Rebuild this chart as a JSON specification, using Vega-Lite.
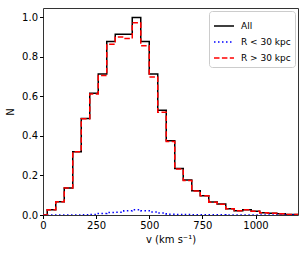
{
  "$schema": "https://vega.github.io/schema/vega-lite/v6.json",
  "width": 255,
  "height": 207,
  "autosize": {"type": "none"},
  "padding": {"left": 43, "top": 8, "right": 9, "bottom": 38},
  "background": "white",
  "config": {
    "view": {"stroke": "#333", "strokeWidth": 1},
    "font": "DejaVu Sans",
    "axis": {
      "grid": false,
      "domain": false,
      "labelFont": "DejaVu Sans",
      "labelFontSize": 10,
      "labelColor": "black",
      "tickColor": "black",
      "tickSize": 3.5,
      "labelPadding": 2,
      "titleFont": "DejaVu Sans",
      "titleFontSize": 10,
      "titleFontWeight": "normal",
      "titleColor": "black"
    },
    "legend": {
      "labelFont": "DejaVu Sans",
      "labelFontSize": 9,
      "labelColor": "black"
    }
  },
  "datasets": {
    "hist": [
      {"v": 0, "n": 0, "s": "All"},
      {"v": 20, "n": 0.027, "s": "All"},
      {"v": 60, "n": 0.067, "s": "All"},
      {"v": 100, "n": 0.137, "s": "All"},
      {"v": 140, "n": 0.32, "s": "All"},
      {"v": 180, "n": 0.488, "s": "All"},
      {"v": 220, "n": 0.616, "s": "All"},
      {"v": 260, "n": 0.714, "s": "All"},
      {"v": 300, "n": 0.878, "s": "All"},
      {"v": 340, "n": 0.915, "s": "All"},
      {"v": 380, "n": 0.915, "s": "All"},
      {"v": 420, "n": 1.0, "s": "All"},
      {"v": 460, "n": 0.878, "s": "All"},
      {"v": 500, "n": 0.714, "s": "All"},
      {"v": 540, "n": 0.53, "s": "All"},
      {"v": 580, "n": 0.376, "s": "All"},
      {"v": 620, "n": 0.236, "s": "All"},
      {"v": 660, "n": 0.177, "s": "All"},
      {"v": 700, "n": 0.123, "s": "All"},
      {"v": 740, "n": 0.098, "s": "All"},
      {"v": 780, "n": 0.066, "s": "All"},
      {"v": 820, "n": 0.056, "s": "All"},
      {"v": 860, "n": 0.032, "s": "All"},
      {"v": 900, "n": 0.022, "s": "All"},
      {"v": 940, "n": 0.027, "s": "All"},
      {"v": 980, "n": 0.019, "s": "All"},
      {"v": 1020, "n": 0.012, "s": "All"},
      {"v": 1060, "n": 0.009, "s": "All"},
      {"v": 1100, "n": 0.006, "s": "All"},
      {"v": 1140, "n": 0.003, "s": "All"},
      {"v": 1180, "n": 0.002, "s": "All"},
      {"v": 1200, "n": 0.002, "s": "All"},

      {"v": 0, "n": 0, "s": "R < 30 kpc"},
      {"v": 20, "n": 0, "s": "R < 30 kpc"},
      {"v": 60, "n": 0, "s": "R < 30 kpc"},
      {"v": 100, "n": 0, "s": "R < 30 kpc"},
      {"v": 140, "n": 0, "s": "R < 30 kpc"},
      {"v": 180, "n": 0.001, "s": "R < 30 kpc"},
      {"v": 220, "n": 0.003, "s": "R < 30 kpc"},
      {"v": 260, "n": 0.008, "s": "R < 30 kpc"},
      {"v": 300, "n": 0.013, "s": "R < 30 kpc"},
      {"v": 340, "n": 0.014, "s": "R < 30 kpc"},
      {"v": 380, "n": 0.021, "s": "R < 30 kpc"},
      {"v": 420, "n": 0.027, "s": "R < 30 kpc"},
      {"v": 460, "n": 0.021, "s": "R < 30 kpc"},
      {"v": 500, "n": 0.015, "s": "R < 30 kpc"},
      {"v": 540, "n": 0.01, "s": "R < 30 kpc"},
      {"v": 580, "n": 0.004, "s": "R < 30 kpc"},
      {"v": 620, "n": 0.003, "s": "R < 30 kpc"},
      {"v": 660, "n": 0.002, "s": "R < 30 kpc"},
      {"v": 700, "n": 0.001, "s": "R < 30 kpc"},
      {"v": 740, "n": 0.001, "s": "R < 30 kpc"},
      {"v": 780, "n": 0.001, "s": "R < 30 kpc"},
      {"v": 820, "n": 0.001, "s": "R < 30 kpc"},
      {"v": 860, "n": 0, "s": "R < 30 kpc"},
      {"v": 900, "n": 0, "s": "R < 30 kpc"},
      {"v": 940, "n": 0, "s": "R < 30 kpc"},
      {"v": 980, "n": 0, "s": "R < 30 kpc"},
      {"v": 1020, "n": 0, "s": "R < 30 kpc"},
      {"v": 1060, "n": 0, "s": "R < 30 kpc"},
      {"v": 1100, "n": 0, "s": "R < 30 kpc"},
      {"v": 1140, "n": 0, "s": "R < 30 kpc"},
      {"v": 1180, "n": 0, "s": "R < 30 kpc"},
      {"v": 1200, "n": 0, "s": "R < 30 kpc"},

      {"v": 0, "n": 0, "s": "R > 30 kpc"},
      {"v": 20, "n": 0.027, "s": "R > 30 kpc"},
      {"v": 60, "n": 0.067, "s": "R > 30 kpc"},
      {"v": 100, "n": 0.137, "s": "R > 30 kpc"},
      {"v": 140, "n": 0.32, "s": "R > 30 kpc"},
      {"v": 180, "n": 0.487, "s": "R > 30 kpc"},
      {"v": 220, "n": 0.613, "s": "R > 30 kpc"},
      {"v": 260, "n": 0.706, "s": "R > 30 kpc"},
      {"v": 300, "n": 0.865, "s": "R > 30 kpc"},
      {"v": 340, "n": 0.901, "s": "R > 30 kpc"},
      {"v": 380, "n": 0.894, "s": "R > 30 kpc"},
      {"v": 420, "n": 0.973, "s": "R > 30 kpc"},
      {"v": 460, "n": 0.857, "s": "R > 30 kpc"},
      {"v": 500, "n": 0.699, "s": "R > 30 kpc"},
      {"v": 540, "n": 0.52, "s": "R > 30 kpc"},
      {"v": 580, "n": 0.372, "s": "R > 30 kpc"},
      {"v": 620, "n": 0.233, "s": "R > 30 kpc"},
      {"v": 660, "n": 0.175, "s": "R > 30 kpc"},
      {"v": 700, "n": 0.122, "s": "R > 30 kpc"},
      {"v": 740, "n": 0.097, "s": "R > 30 kpc"},
      {"v": 780, "n": 0.065, "s": "R > 30 kpc"},
      {"v": 820, "n": 0.055, "s": "R > 30 kpc"},
      {"v": 860, "n": 0.032, "s": "R > 30 kpc"},
      {"v": 900, "n": 0.022, "s": "R > 30 kpc"},
      {"v": 940, "n": 0.027, "s": "R > 30 kpc"},
      {"v": 980, "n": 0.019, "s": "R > 30 kpc"},
      {"v": 1020, "n": 0.012, "s": "R > 30 kpc"},
      {"v": 1060, "n": 0.009, "s": "R > 30 kpc"},
      {"v": 1100, "n": 0.006, "s": "R > 30 kpc"},
      {"v": 1140, "n": 0.003, "s": "R > 30 kpc"},
      {"v": 1180, "n": 0.002, "s": "R > 30 kpc"},
      {"v": 1200, "n": 0.002, "s": "R > 30 kpc"}
    ]
  },
  "data": {"name": "hist"},
  "encoding": {
    "x": {
      "field": "v",
      "type": "quantitative",
      "scale": {"domain": [0, 1200], "nice": false, "zero": false},
      "axis": {"values": [0, 250, 500, 750, 1000], "format": "d", "title": "v (km s⁻¹)", "titlePadding": 4, "labelFlush": false}
    },
    "y": {
      "field": "n",
      "type": "quantitative",
      "scale": {"domain": [0, 1.048], "nice": false},
      "axis": {"values": [0, 0.2, 0.4, 0.6, 0.8, 1.0], "format": ".1f", "title": "N", "titlePadding": 6, "labelFlush": false}
    },
    "color": {
      "field": "s",
      "type": "nominal",
      "scale": {"domain": ["All", "R < 30 kpc", "R > 30 kpc"], "range": ["#000000", "#0000ff", "#ff0000"]},
      "legend": {
        "title": null,
        "orient": "top-right",
        "offset": 3,
        "symbolType": "stroke",
        "symbolSize": 400,
        "symbolStrokeWidth": 1.5,
        "rowPadding": -6,
        "padding": 4,
        "strokeColor": "#cccccc",
        "fillColor": "white",
        "cornerRadius": 3,
        "labelOffset": 6
      }
    },
    "strokeDash": {
      "field": "s",
      "type": "nominal",
      "scale": {"domain": ["All", "R < 30 kpc", "R > 30 kpc"], "range": [[1, 0], [1.5, 2.5], [5.5, 2.4]]},
      "legend": {
        "title": null,
        "orient": "top-right",
        "offset": 3,
        "symbolType": "stroke",
        "symbolSize": 400,
        "symbolStrokeWidth": 1.5,
        "rowPadding": -6,
        "padding": 4,
        "strokeColor": "#cccccc",
        "fillColor": "white",
        "cornerRadius": 3,
        "labelOffset": 6
      }
    }
  },
  "layer": [
    {"transform": [{"filter": "datum.s === 'All'"}], "mark": {"type": "line", "interpolate": "step-after", "strokeWidth": 1.5, "clip": true}},
    {"transform": [{"filter": "datum.s === 'R < 30 kpc'"}], "mark": {"type": "line", "interpolate": "step-after", "strokeWidth": 1.5, "clip": true}},
    {"transform": [{"filter": "datum.s === 'R > 30 kpc'"}], "mark": {"type": "line", "interpolate": "step-after", "strokeWidth": 1.5, "clip": true}}
  ]
}
